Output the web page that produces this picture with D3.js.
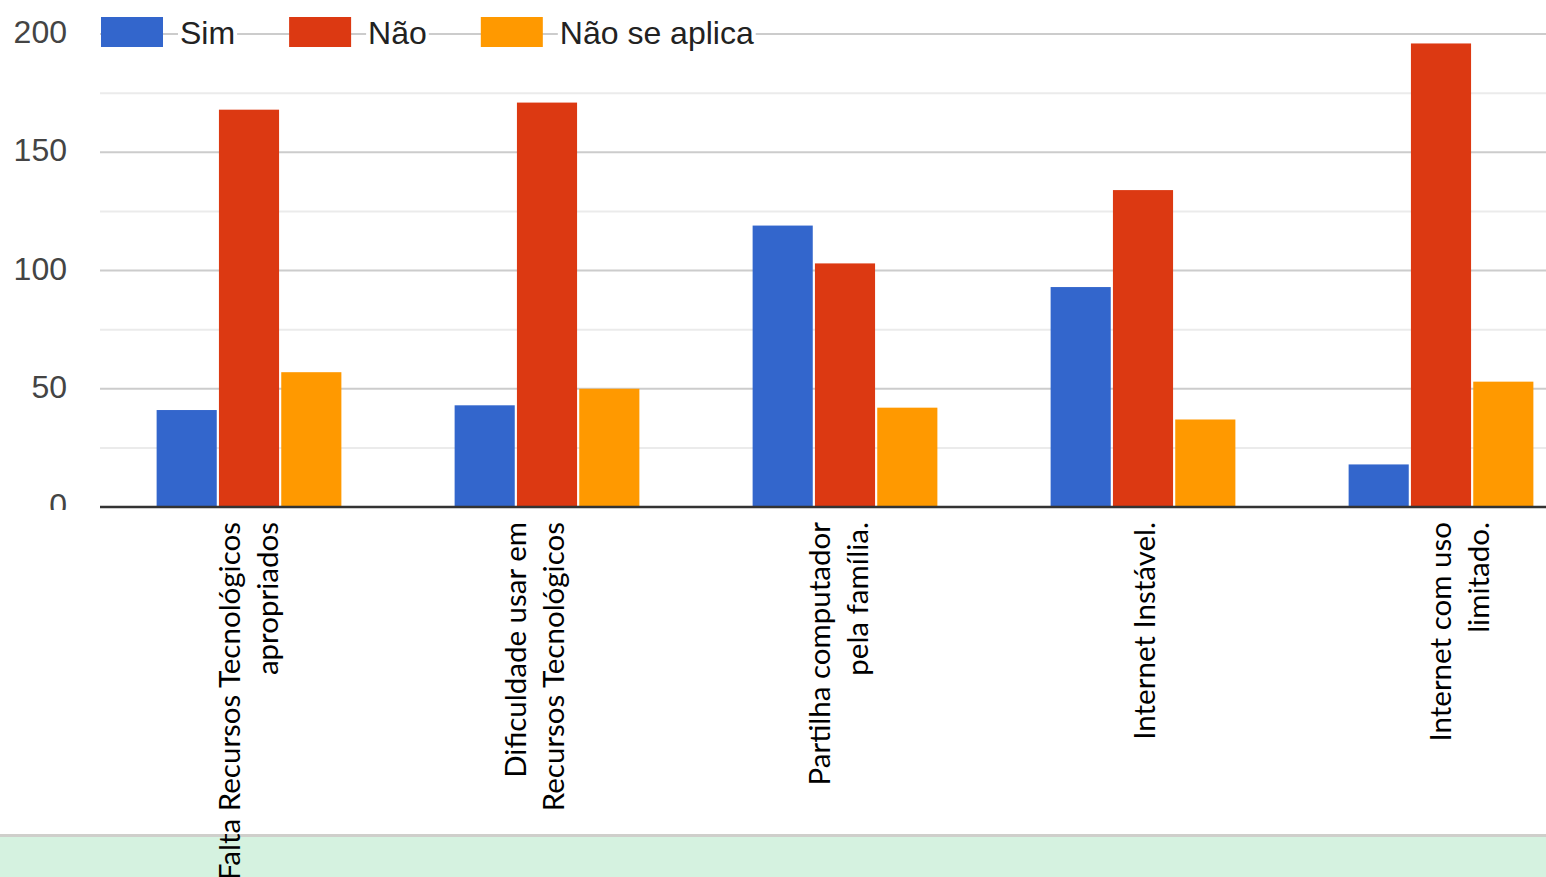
<!DOCTYPE html>
<html>
<head>
<meta charset="utf-8">
<script src="https://cdnjs.cloudflare.com/ajax/libs/d3/7.8.5/d3.min.js"></script>
<style>
  html, body { margin: 0; padding: 0; background: #fff; overflow: hidden; }
  svg { display: block; }
</style>
</head>
<body>
<div id="chart"></div>
<script>
/*  Chart data  */
var categories = [
  ["Falta Recursos Tecnológicos", "apropriados"],
  ["Dificuldade usar em", "Recursos Tecnológicos"],
  ["Partilha computador", "pela família."],
  ["Internet Instável."],
  ["Internet com uso", "limitado."]
];
var seriesNames = ["Sim", "Não", "Não se aplica"];
var seriesColors = ["#3366cc", "#dc3912", "#ff9900"];
var sim         = [41, 43, 119, 93, 18];
var nao         = [168, 171, 103, 134, 196];
var naoSeAplica = [57, 50, 42, 37, 53];
var yTicks = [0, 50, 100, 150, 200];
var yMinor = [25, 75, 125, 175];

/*  Layout  */
var W = 1546, H = 877;
var plotLeft = 100, plotRight = 1590, plotTop = 34, base = 507;
var labelNudge = [0, -12, -6, 2, 19];   // the pasted labels are not exactly centred

var svg = d3.select("#chart").append("svg")
  .attr("width", W).attr("height", H);

var values = [sim, nao, naoSeAplica];

var x = d3.scaleBand()
  .domain(d3.range(categories.length))
  .range([plotLeft, plotRight])
  .paddingInner(0.38)
  .paddingOuter(0.19);

var xs = d3.scaleBand()
  .domain(seriesNames)
  .range([0, x.bandwidth()])
  .paddingInner(0.035);

var y = d3.scaleLinear().domain([0, 200]).range([base, plotTop]);

/*  Gridlines  */
svg.append("g").selectAll("line").data(yMinor).join("line")
  .attr("x1", plotLeft).attr("x2", W)
  .attr("y1", function(d){ return y(d); }).attr("y2", function(d){ return y(d); })
  .attr("stroke", "#ebebeb").attr("stroke-width", 2);

svg.append("g").selectAll("line").data(yTicks.slice(1)).join("line")
  .attr("x1", plotLeft).attr("x2", W)
  .attr("y1", function(d){ return y(d); }).attr("y2", function(d){ return y(d); })
  .attr("stroke", "#cccccc").attr("stroke-width", 2);

/*  Y axis labels  */
var yAxis = d3.axisLeft(y).tickValues(yTicks).tickSize(0).tickPadding(0);
var yg = svg.append("g").attr("transform", "translate(67,0)").call(yAxis);
yg.select(".domain").remove();
yg.selectAll("text")
  .attr("font-family", "Arial, 'Liberation Sans', sans-serif")
  .attr("font-size", 32)
  .attr("fill", "#444")
  .attr("dy", "0.27em");

/*  Bars  */
var groups = svg.append("g").selectAll("g").data(categories).join("g")
  .attr("transform", function(d, i){ return "translate(" + x(i) + ",0)"; });

groups.selectAll("rect")
  .data(function(d, i){ return seriesNames.map(function(s, k){ return {s: s, k: k, v: values[k][i]}; }); })
  .join("rect")
  .attr("x", function(d){ return xs(d.s); })
  .attr("y", function(d){ return y(d.v); })
  .attr("width", xs.bandwidth())
  .attr("height", function(d){ return base - y(d.v); })
  .attr("fill", function(d){ return seriesColors[d.k]; });

/*  Cover under baseline (labels were pasted over the chart)  */
svg.append("rect").attr("x", 0).attr("y", base + 3).attr("width", W).attr("height", 834 - base - 3).attr("fill", "#fff");

/*  Baseline  */
svg.append("line")
  .attr("x1", plotLeft).attr("x2", W)
  .attr("y1", base).attr("y2", base)
  .attr("stroke", "#333").attr("stroke-width", 2.5);

/*  Bottom band  */
svg.append("rect").attr("x", 0).attr("y", 834).attr("width", W).attr("height", 3).attr("fill", "#cfcfcb");
svg.append("rect").attr("x", 0).attr("y", 837).attr("width", W).attr("height", H - 837).attr("fill", "#d5f2e0");

/*  Category labels (rotated)  */
var lineH = 38;
var lab = svg.append("g").selectAll("text").data(categories).join("text")
  .attr("transform", function(d, i){ return "translate(" + (x(i) + x.bandwidth() / 2 + labelNudge[i]) + "," + (base + 15) + ") rotate(-90)"; })
  .attr("text-anchor", "end")
  .attr("font-family", "Lato, 'Open Sans', sans-serif")
  .attr("font-size", 29.5)
  .attr("fill", "#000");

lab.selectAll("tspan").data(function(d){ return d.map(function(t, j){ return {t: t, j: j, n: d.length}; }); })
  .join("tspan")
  .attr("x", 0)
  .attr("y", function(d){ return (d.j - (d.n - 1) / 2) * lineH; })
  .attr("dy", "0.35em")
  .text(function(d){ return d.t; });

/*  Legend  */
var legend = svg.append("g").attr("transform", "translate(101,17)");
var lx = 0;
seriesNames.forEach(function(name, k){
  legend.append("rect")
    .attr("x", lx).attr("y", 0).attr("width", 62).attr("height", 30)
    .attr("fill", seriesColors[k]);
  var bg = legend.append("rect")
    .attr("x", lx + 77).attr("y", -2).attr("height", 34)
    .attr("fill", "#fff");
  var t = legend.append("text")
    .attr("x", lx + 79).attr("y", 15).attr("dy", "0.36em")
    .attr("font-family", "Arial, 'Liberation Sans', sans-serif")
    .attr("font-size", 32)
    .attr("fill", "#222")
    .text(name);
  var w = t.node().getComputedTextLength();
  bg.attr("width", w + 4);
  lx += 79 + w + 54;
});
</script>
</body>
</html>
